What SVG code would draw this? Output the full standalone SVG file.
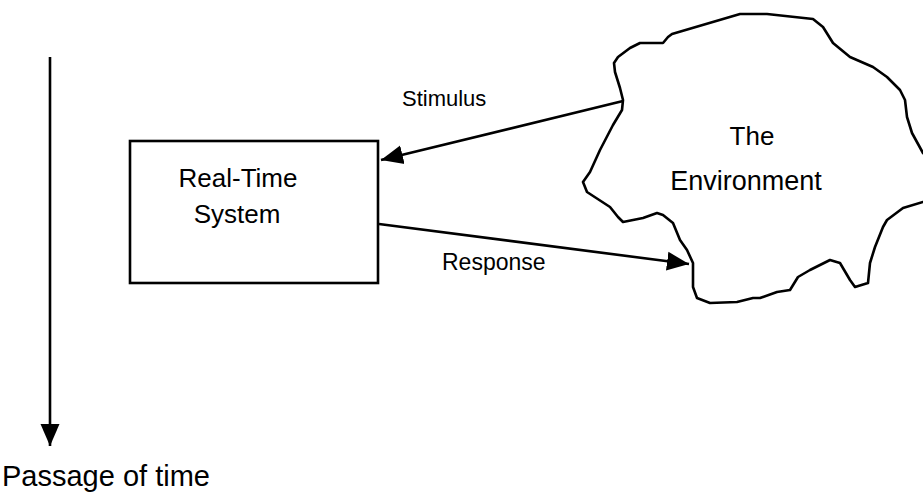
<svg xmlns="http://www.w3.org/2000/svg" width="923" height="496" viewBox="0 0 923 496">
<defs>
<style>
.ln{stroke:#000;stroke-width:2.6;fill:none}
.t{font-family:"Liberation Sans",Arial,sans-serif;fill:#000}
</style>
<marker id="ah" markerWidth="24" markerHeight="20" refX="22" refY="10" orient="auto" markerUnits="userSpaceOnUse">
<path d="M0,0.5 L22,10 L0,19.5 Z" fill="#000"/>
</marker>
</defs>
<rect width="923" height="496" fill="#fff"/>
<g id="system">
<rect x="130" y="141" width="248" height="142" fill="#fff" stroke="#000" stroke-width="2.6"/>
<text class="t" x="238" y="187" font-size="26" text-anchor="middle">Real-Time</text>
<text class="t" x="237" y="223" font-size="26" text-anchor="middle">System</text>
</g>
<g id="environment">
<path class="ln" stroke-width="3" stroke-linejoin="round" d="M663,43 L668,37 L672,34 L740,14 L767,14 L813,19 L823,27 L833,43 L850,57 L873,67 L887,77 L900,90 L905,100 L907,117 L912,133 L923,153 L930,160 L930,200 L923,202 L903,208 L887,220 L883,227 L875,247 L870,263 L868,283 L855,287 L850,280 L840,263 L830,260 L810,270 L798,277 L790,290 L777,292 L760,298 L753,298 L737,302 L710,303 L697,298 L693,287 L693,263 L687,250 L680,240 L673,223 L663,215 L657,213 L643,218 L623,222 L618,217 L610,207 L587,192 L583,182 L590,172 L600,150 L613,125 L622,110 L623,100 L620,88 L615,72 L614,63 L618,57 L630,48 L640,43 Z"/>
<text class="t" x="752" y="145" font-size="26" text-anchor="middle">The</text>
<text class="t" x="746" y="190" font-size="27" text-anchor="middle">Environment</text>
</g>
<g id="connectors">
<line class="ln" x1="623" y1="101" x2="381" y2="160" marker-end="url(#ah)"/>
<line class="ln" x1="379" y1="224" x2="689" y2="264" marker-end="url(#ah)"/>
<line class="ln" x1="50" y1="57" x2="50" y2="446" marker-end="url(#ah)"/>
</g>
<g id="labels">
<text class="t" x="402" y="106" font-size="22">Stimulus</text>
<text class="t" x="442" y="270" font-size="23">Response</text>
<text class="t" x="2" y="486" font-size="29">Passage of time</text>
</g>
</svg>
